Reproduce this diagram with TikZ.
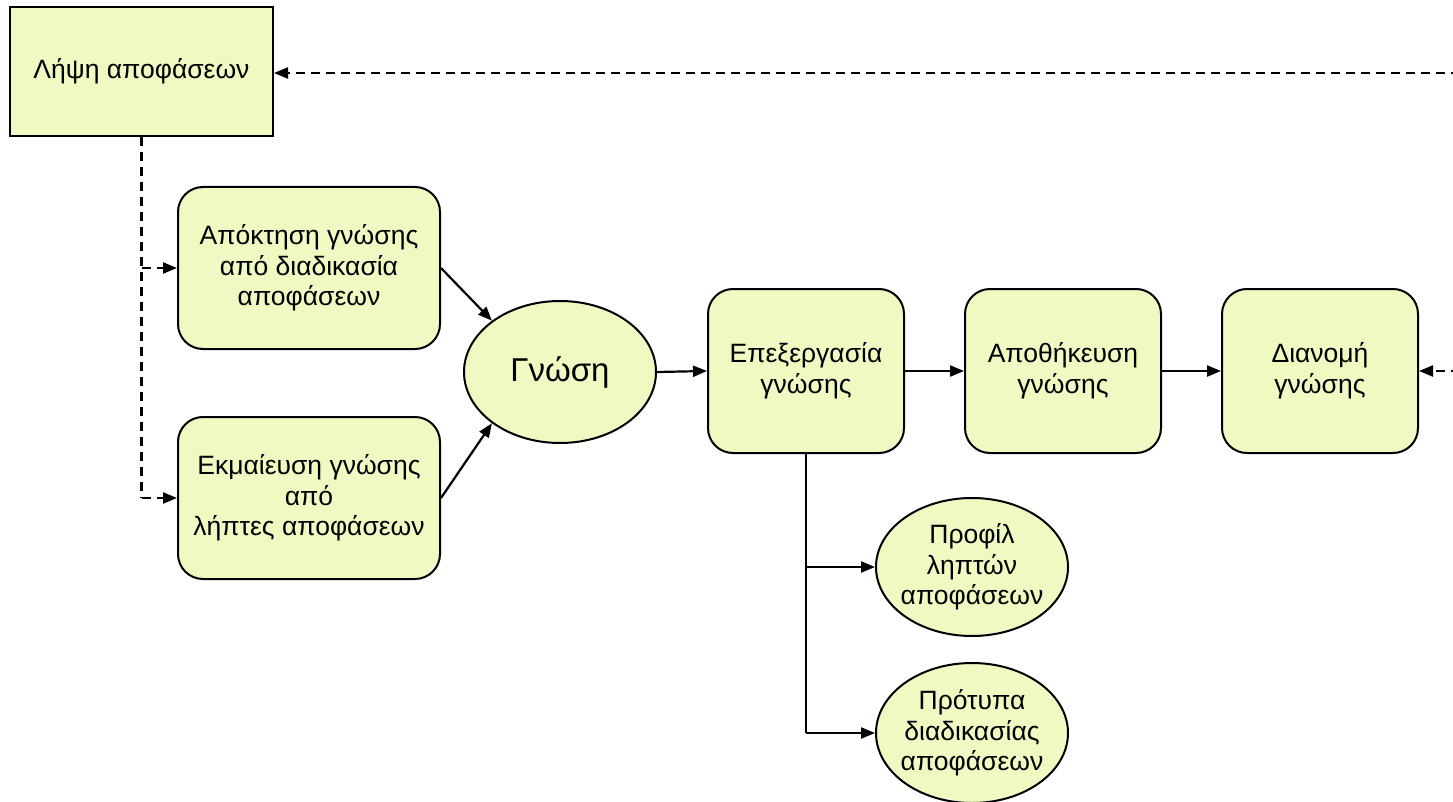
\documentclass[tikz,border=0pt]{standalone}
\usepackage{fontspec}
\setmainfont{Liberation Sans}
\usetikzlibrary{arrows.meta,shapes.geometric}
\definecolor{boxfill}{RGB}{238,250,193}
\tikzset{
  txt/.style={align=center,inner sep=0pt,font=\fontsize{26.5}{30.5}\selectfont},
  base/.style={txt,draw=black,line width=2pt,fill=boxfill},
  sqbox/.style={base,rectangle,minimum width=263pt,minimum height=129pt},
  rbox/.style={base,rectangle,rounded corners=25pt},
  ell/.style={base,ellipse},
  conn/.style={line width=2.2pt,-{Triangle[length=14pt,width=11pt]}},
  dconn/.style={conn,dash pattern=on 9pt off 6pt},
  dline/.style={line width=2.2pt,dash pattern=on 9pt off 6pt},
  sline/.style={line width=2.2pt}
}
\begin{document}
\begin{tikzpicture}[x=1pt,y=-1pt]
\useasboundingbox (0,0) rectangle (1453,802);
\node[sqbox] (lipsi) at (141.5,71.5) {Λήψη αποφάσεων};
\node[rbox,minimum width=262pt,minimum height=162pt] (b1) at (309,268) {Απόκτηση γνώσης\\από διαδικασία\\αποφάσεων};
\node[rbox,minimum width=262pt,minimum height=162pt] (b2) at (309,498) {Εκμαίευση γνώσης\\από\\λήπτες αποφάσεων};
\node[ell,minimum width=192pt,minimum height=142pt] (g) at (560,372) {};
\node[txt,font=\fontsize{33}{38}\selectfont] (gt) at (g.center) {Γνώση};
\node[rbox,minimum width=196pt,minimum height=164pt] (ep) at (806,371) {Επεξεργασία\\γνώσης};
\node[rbox,minimum width=196pt,minimum height=164pt] (ap) at (1063,371) {Αποθήκευση\\γνώσης};
\node[rbox,minimum width=196pt,minimum height=164pt] (di) at (1320,371) {Διανομή\\γνώσης};
\node[ell,minimum width=192pt,minimum height=138pt] (pf) at (972,567) {};
\node[txt] (pft) at (pf.center) {Προφίλ\\ληπτών\\αποφάσεων};
\node[ell,minimum width=192pt,minimum height=140pt] (pt) at (972,733) {};
\node[txt] (ptt) at (pt.center) {Πρότυπα\\διαδικασίας\\αποφάσεων};
\coordinate (r1) at (1460,73);
\coordinate (r2) at (1460,371);
\draw[dconn] (r1) -- (lipsi.east |- r1);
\draw[dconn] (r2) -- (di.east);
\draw[dline] (lipsi.south) -- (lipsi.south |- b2.west);
\draw[dconn] (lipsi.south |- b1.west) -- (b1.west);
\draw[dconn] (lipsi.south |- b2.west) -- (b2.west);
\draw[conn] (b1.east) -- (g.143);
\draw[conn] (b2.east) -- (g.217);
\draw[conn] (g.east) -- (ep.west);
\draw[conn] (ep.east) -- (ap.west);
\draw[conn] (ap.east) -- (di.west);
\draw[sline] (ep.south) -- (ep.south |- pt.west);
\draw[conn] (ep.south |- pf.west) -- (pf.west);
\draw[conn] (ep.south |- pt.west) -- (pt.west);
\end{tikzpicture}
\end{document}
